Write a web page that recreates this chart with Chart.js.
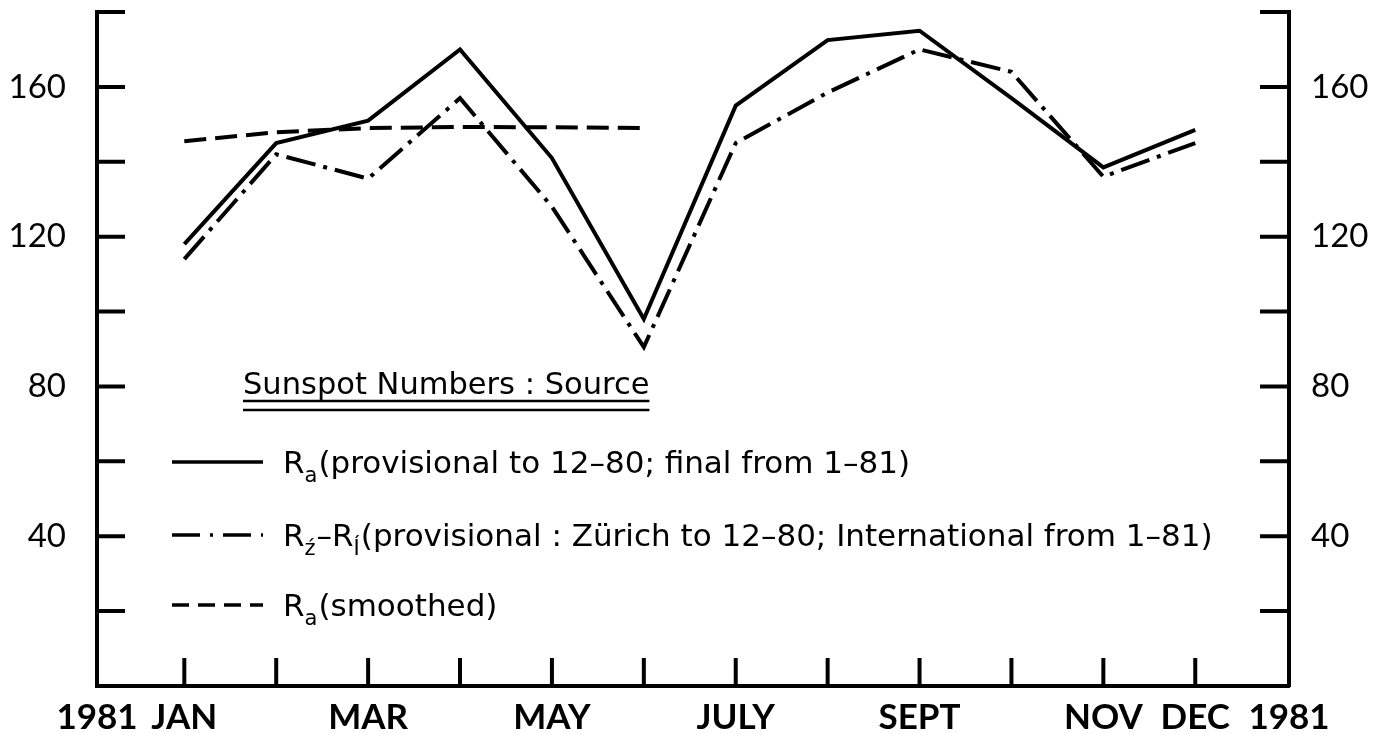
<!DOCTYPE html>
<html>
<head>
<meta charset="utf-8">
<title>Sunspot Numbers 1981</title>
<script src="https://cdn.jsdelivr.net/npm/chart.js@4.4.1/dist/chart.umd.min.js"></script>
<style>
  html, body { margin: 0; padding: 0; background: #fff; }
  #chartContainer { width: 1380px; height: 734px; position: relative; }
</style>
</head>
<body>
<div id="chartContainer"><canvas id="sunspotChart"></canvas></div>
<script>
// months sit at x = 0..11, the axis runs a bit past them on both sides
var months = ['JAN', 'FEB', 'MAR', 'APR', 'MAY', 'JUN', 'JUL', 'AUG', 'SEP', 'OCT', 'NOV', 'DEC'];
var monthTickLabels = ['JAN', '', 'MAR', '', 'MAY', '', 'JULY', '', 'SEPT', '', 'NOV', 'DEC'];
var yearLabel = '1981';

// values
var raProvisional = [118, 145, 151, 170, 141, 98, 155, 172.5, 175, 157, 138.5, 148.5];
var riProvisional = [114, 142, 135.5, 157, 128, 90.5, 145, 158.5, 170, 164, 136, 145];
var raSmoothed = [145.5, 147.9, 149, 149.3, 149.2, 149];

var yTickValues = [0, 20, 40, 60, 80, 100, 120, 140, 160, 180];
var yTickLabels = [40, 80, 120, 160];

var legendTitle = 'Sunspot Numbers : Source';
// each row: pieces of text, true = subscript
var legendRows = [
    [['R', false], ['a', true], ['(provisional to 12\u201380; final from 1\u201381)', false]],
    [['R', false], ['\u017a', true], ['\u2013R', false], ['\u00cd', true], ['(provisional : Z\u00fcrich to 12\u201380; International from 1\u201381)', false]],
    [['R', false], ['a', true], ['(smoothed)', false]]
];

var dashDot = [30, 8, 4, 8];
var dashed = [22, 9];
var fontName = 'Lato, "DejaVu Sans", sans-serif';
var keyFont = '"DejaVu Sans", sans-serif';

function toPoints(values) {
    return values.map(function(v, i) { return { x: i, y: v }; });
}

// inward tick marks on the left, right and bottom axes
var tickStubs = {
    id: 'tickStubs',
    afterDraw: function(chart) {
        var ctx = chart.ctx, a = chart.chartArea;
        var xs = chart.scales.x, ys = chart.scales.y;
        ctx.save();
        ctx.strokeStyle = '#000';
        ctx.lineWidth = 4;
        yTickValues.forEach(function(v) {
            if (v === 0) return;
            var py = ys.getPixelForValue(v);
            ctx.beginPath();
            ctx.moveTo(a.left, py); ctx.lineTo(a.left + 28, py);
            ctx.moveTo(a.right - 29, py); ctx.lineTo(a.right, py);
            ctx.stroke();
        });
        months.forEach(function(m, i) {
            var px = xs.getPixelForValue(i);
            ctx.beginPath();
            ctx.moveTo(px, a.bottom); ctx.lineTo(px, a.bottom - 28);
            ctx.stroke();
        });
        ctx.restore();
    }
};

// the "Sunspot Numbers : Source" key inside the plot
var sourceKey = {
    id: 'sourceKey',
    afterDraw: function(chart) {
        var ctx = chart.ctx, a = chart.chartArea;
        var left = a.left + 146;
        ctx.save();
        ctx.fillStyle = '#000';
        ctx.strokeStyle = '#000';
        ctx.textBaseline = 'alphabetic';
        ctx.font = '30.5px ' + keyFont;
        ctx.fillText(legendTitle, left, 394);
        var w = ctx.measureText(legendTitle).width;
        ctx.lineWidth = 2.5;
        ctx.beginPath();
        ctx.moveTo(left, 401); ctx.lineTo(left + w, 401);
        ctx.moveTo(left, 410); ctx.lineTo(left + w, 410);
        ctx.stroke();

        var rowY = [462, 535, 605];
        chart.data.datasets.forEach(function(ds, k) {
            var y = rowY[k];
            ctx.lineWidth = 3.5;
            ctx.setLineDash(k === 1 ? [28, 10, 3, 10] : (ds.borderDash.length ? [17, 9] : []));
            ctx.beginPath();
            ctx.moveTo(a.left + 75, y); ctx.lineTo(a.left + 166, y);
            ctx.stroke();
            ctx.setLineDash([]);
            var x = a.left + 186;
            legendRows[k].forEach(function(part) {
                if (part[1]) {
                    ctx.font = '21px ' + keyFont;
                    ctx.fillText(part[0], x, y + 20);
                } else {
                    ctx.font = '31px ' + keyFont;
                    ctx.fillText(part[0], x, y + 11);
                }
                x += ctx.measureText(part[0]).width + (part[1] ? 1 : 0);
            });
        });
        ctx.restore();
    }
};

var ctx = document.getElementById('sunspotChart').getContext('2d');
var sunspotChart = new Chart(ctx, {
    type: 'line',
    data: {
        datasets: [{
            label: 'Ra (provisional to 12-80; final from 1-81)',
            data: toPoints(raProvisional),
            borderColor: '#000',
            borderWidth: 4,
            borderDash: []
        }, {
            label: 'Rz-RI (provisional: Zurich to 12-80; International from 1-81)',
            data: toPoints(riProvisional),
            borderColor: '#000',
            borderWidth: 4,
            borderDash: dashDot
        }, {
            label: 'Ra (smoothed)',
            data: toPoints(raSmoothed),
            borderColor: '#000',
            borderWidth: 4,
            borderDash: dashed
        }]
    },
    options: {
        responsive: true,
        maintainAspectRatio: false,
        animation: false,
        layout: { padding: { top: 12, left: 0, right: 0, bottom: 0 } },
        elements: {
            point: { radius: 0 },
            line: { tension: 0, borderJoinStyle: 'miter', borderCapStyle: 'butt' }
        },
        plugins: {
            legend: { display: false },
            tooltip: { enabled: false }
        },
        scales: {
            x: {
                type: 'linear',
                min: -0.95,
                max: 12.02,
                afterBuildTicks: function(scale) {
                    var t = [{ value: -0.95 }];
                    months.forEach(function(m, i) { t.push({ value: i }); });
                    t.push({ value: 12.02 });
                    scale.ticks = t;
                },
                afterFit: function(scale) {
                    scale.height = 48;
                    scale.paddingLeft = 0;
                    scale.paddingRight = 0;
                },
                grid: { display: false, drawTicks: false, tickLength: 0 },
                border: { display: true, color: '#000', width: 4 },
                ticks: {
                    autoSkip: false,
                    maxRotation: 0,
                    padding: 11,
                    color: '#000',
                    font: { family: fontName, size: 35, weight: 'bold' },
                    callback: function(value, index, ticks) {
                        if (index === 0 || index === ticks.length - 1) return yearLabel;
                        return monthTickLabels[index - 1];
                    }
                }
            },
            y: {
                position: 'left',
                min: 0,
                max: 180,
                afterBuildTicks: function(scale) {
                    scale.ticks = yTickValues.map(function(v) { return { value: v }; });
                },
                afterFit: function(scale) {
                    scale.width = 97;
                    scale.paddingTop = 0;
                    scale.paddingBottom = 0;
                },
                grid: { display: false, drawTicks: false, tickLength: 0 },
                border: { display: true, color: '#000', width: 4 },
                ticks: {
                    padding: 31,
                    color: '#000',
                    font: { family: fontName, size: 33 },
                    callback: function(v) { return yTickLabels.indexOf(v) >= 0 ? String(v) : ''; }
                }
            },
            y2: {
                position: 'right',
                min: 0,
                max: 180,
                afterBuildTicks: function(scale) {
                    scale.ticks = yTickValues.map(function(v) { return { value: v }; });
                },
                afterFit: function(scale) {
                    scale.width = 91;
                    scale.paddingTop = 0;
                    scale.paddingBottom = 0;
                },
                grid: { display: false, drawTicks: false, tickLength: 0 },
                border: { display: true, color: '#000', width: 4 },
                ticks: {
                    padding: 22,
                    color: '#000',
                    font: { family: fontName, size: 33 },
                    callback: function(v) { return yTickLabels.indexOf(v) >= 0 ? String(v) : ''; }
                }
            }
        }
    },
    plugins: [tickStubs, sourceKey]
});
</script>
</body>
</html>
